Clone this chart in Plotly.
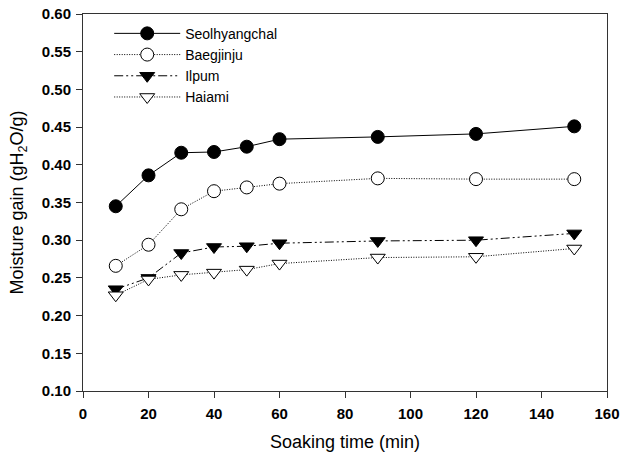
import plotly.graph_objects as go

time_min = [10, 20, 30, 40, 50, 60, 90, 120, 150]
seolhyangchal = [0.345, 0.386, 0.416, 0.417, 0.424, 0.434, 0.437, 0.441, 0.451]
baegjinju = [0.266, 0.294, 0.341, 0.365, 0.370, 0.375, 0.382, 0.381, 0.381]
ilpum = [0.235, 0.250, 0.283, 0.291, 0.292, 0.296, 0.299, 0.300, 0.309]
haiami = [0.227, 0.248, 0.254, 0.257, 0.261, 0.269, 0.277, 0.278, 0.289]

x_ticks = [0, 20, 40, 60, 80, 100, 120, 140, 160]
y_ticks = [0.10, 0.15, 0.20, 0.25, 0.30, 0.35, 0.40, 0.45, 0.50, 0.55, 0.60]

series = [
    ("Seolhyangchal", seolhyangchal, "solid", "circle", "black"),
    ("Baegjinju", baegjinju, "1px,1.5px", "circle", "white"),
    ("Ilpum", ilpum, "9px,3px,2px,3px,2px,3px", "triangle-down", "black"),
    ("Haiami", haiami, "1px,1.5px", "triangle-down", "white"),
]

FONT = "Liberation Sans, Arial"

fig = go.Figure()
for name, vals, dash, sym, fill in series:
    fig.add_trace(go.Scatter(
        x=time_min, y=vals, name=name, mode="lines+markers",
        line=dict(color="black", width=1, dash=dash),
        marker=dict(symbol=sym, size=13, color=fill,
                    line=dict(color="black", width=1)),
    ))

axis_common = dict(
    showline=True, linecolor="#333333", linewidth=1, mirror=True,
    ticks="outside", ticklen=6, tickcolor="#333333", tickwidth=1,
    showgrid=False, zeroline=False, automargin=False,
    ticklabeloverflow="allow",
    tickfont=dict(family=FONT, size=15, color="black", weight="bold"),
)

fig.update_xaxes(range=[0, 160], tickvals=x_ticks, ticklabelstandoff=3,
                 title=dict(text="Soaking time (min)", standoff=14,
                            font=dict(family=FONT, size=18, color="black")),
                 **axis_common)
fig.update_yaxes(range=[0.10, 0.60], tickvals=y_ticks, tickformat=".2f",
                 ticklabelstandoff=2,
                 title=dict(text="Moisture gain (gH<sub>2</sub>O/g)", standoff=13,
                            font=dict(family=FONT, size=18, color="black")),
                 **axis_common)

fig.update_layout(
    template="none",
    width=621, height=452,
    margin=dict(l=83, r=14, t=14, b=61),
    paper_bgcolor="white", plot_bgcolor="white",
    showlegend=True,
    legend=dict(x=0.05, y=0.99, xanchor="left", yanchor="top",
                bgcolor="rgba(0,0,0,0)", itemwidth=66, tracegroupgap=0,
                font=dict(family=FONT, size=14, color="black")),
)

fig.write_html(
    "out.html",
    config={"displayModeBar": False},
    post_script="document.body.style.margin='0';document.body.style.overflow='hidden';",
)
